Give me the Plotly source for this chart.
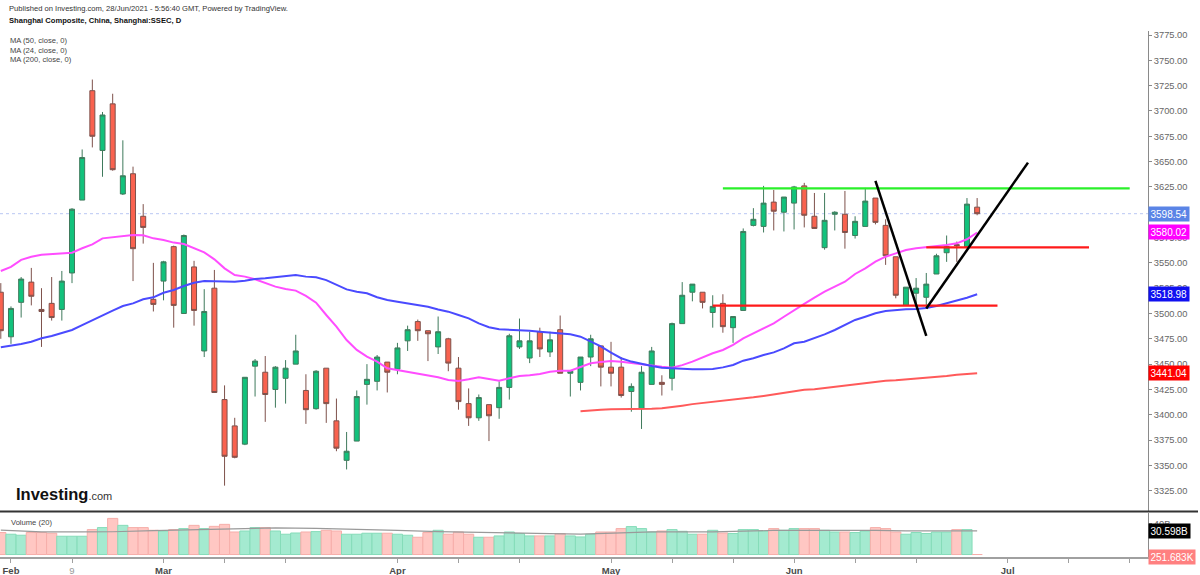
import pandas as pd
import plotly.graph_objects as go

# ---------------- DATA ----------------
holidays = ["2021-02-11", "2021-02-12", "2021-02-15", "2021-02-16", "2021-02-17",
            "2021-04-05", "2021-05-03", "2021-05-04", "2021-05-05", "2021-06-14"]
calendar = [d.strftime("%Y-%m-%d") for d in pd.bdate_range("2021-01-29", "2021-07-30")
            if d.strftime("%Y-%m-%d") not in holidays]
dates = [d for d in calendar if d <= "2021-06-28"]

opens = [3521, 3477, 3511, 3531, 3504, 3510, 3504, 3540, 3612, 3720,
         3661, 3707, 3618, 3638, 3596, 3514, 3532, 3566, 3500, 3546,
         3463, 3525, 3415, 3389, 3371, 3448, 3442, 3425, 3436, 3450,
         3424, 3406, 3446, 3394, 3355, 3374, 3430, 3433, 3452, 3445,
         3473, 3492, 3483, 3467, 3475, 3446, 3411, 3397, 3410, 3407,
         3427, 3467, 3456, 3482, 3462, 3484, 3441, 3432, 3457, 3468,
         3447, 3447, 3423, 3406, 3430, 3432, 3436, 3490, 3521, 3521,
         3501, 3510, 3486, 3503, 3587, 3586, 3610, 3600, 3609, 3626,
         3596, 3565, 3598, 3598, 3577, 3586, 3614, 3587, 3556, 3508,
         3520, 3516, 3539, 3560, 3568, 3566, 3605]
highs = [3530, 3507, 3536, 3545, 3525, 3536, 3542, 3604, 3662, 3731,
         3699, 3717, 3671, 3645, 3608, 3550, 3552, 3567, 3578, 3552,
         3524, 3543, 3429, 3397, 3437, 3455, 3458, 3448, 3454, 3479,
         3440, 3444, 3446, 3416, 3383, 3424, 3450, 3459, 3452, 3471,
         3488, 3494, 3483, 3497, 3476, 3457, 3426, 3420, 3410, 3433,
         3480, 3495, 3482, 3486, 3482, 3498, 3443, 3457, 3479, 3468,
         3472, 3457, 3431, 3448, 3467, 3439, 3491, 3531, 3529, 3521,
         3518, 3519, 3497, 3584, 3604, 3626, 3622, 3615, 3626, 3629,
         3619, 3619, 3601, 3621, 3596, 3624, 3614, 3593, 3556, 3526,
         3535, 3540, 3559, 3577, 3571, 3614, 3614]
lows = [3475, 3470, 3496, 3508, 3467, 3493, 3493, 3530, 3612, 3664,
        3635, 3641, 3617, 3532, 3569, 3502, 3513, 3486, 3500, 3488,
        3457, 3422, 3330, 3357, 3370, 3418, 3393, 3407, 3411, 3450,
        3391, 3405, 3392, 3364, 3346, 3374, 3410, 3424, 3422, 3440,
        3463, 3473, 3453, 3460, 3443, 3405, 3389, 3394, 3374, 3396,
        3415, 3465, 3451, 3457, 3457, 3441, 3418, 3424, 3448, 3428,
        3428, 3417, 3403, 3386, 3430, 3419, 3424, 3490, 3512, 3505,
        3486, 3481, 3471, 3503, 3586, 3580, 3582, 3581, 3583, 3585,
        3584, 3563, 3582, 3564, 3574, 3586, 3588, 3548, 3515, 3508,
        3507, 3507, 3539, 3551, 3551, 3566, 3597]
closes = [3483, 3505, 3534, 3517, 3502, 3496, 3532, 3603, 3654, 3675,
          3696, 3642, 3636, 3564, 3585, 3509, 3551, 3508, 3577, 3503,
          3502, 3422, 3359, 3358, 3437, 3453, 3420, 3447, 3446, 3463,
          3405, 3443, 3411, 3367, 3364, 3418, 3435, 3457, 3442, 3466,
          3484, 3483, 3480, 3482, 3451, 3413, 3397, 3417, 3399, 3427,
          3478, 3473, 3473, 3465, 3474, 3441, 3443, 3457, 3475, 3447,
          3441, 3419, 3428, 3442, 3463, 3430, 3490, 3518, 3529, 3511,
          3507, 3487, 3497, 3581, 3593, 3609, 3601, 3615, 3625, 3597,
          3584, 3592, 3600, 3580, 3591, 3611, 3590, 3557, 3518, 3526,
          3525, 3529, 3557, 3566, 3567, 3608, 3598.54]
# volume in billions
volumes = [28.5, 26.3, 25.0, 28.5, 28.5, 27.6, 23.7, 23.7, 23.7, 32.3,
           34.9, 46.8, 37.8, 34.9, 34.9, 31.4, 30.5, 32.3, 33.6, 37.8,
           33.6, 36.5, 39.1, 29.2, 30.5, 34.9, 34.9, 30.5, 26.3, 27.9,
           29.2, 29.7, 31.4, 30.5, 26.3, 26.3, 27.6, 27.6, 27.6, 26.3,
           25.0, 22.4, 28.5, 31.4, 26.3, 29.2, 26.3, 22.4, 22.4, 24.1,
           29.2, 27.2, 24.1, 24.1, 24.1, 27.2, 24.1, 22.8, 26.3, 29.2,
           29.2, 33.6, 36.2, 33.6, 29.2, 30.5, 32.3, 30.1, 26.3, 26.3,
           31.4, 27.9, 27.2, 32.3, 32.3, 30.5, 33.6, 31.4, 33.6, 33.6,
           33.6, 31.4, 29.2, 29.2, 28.5, 30.5, 34.9, 33.6, 29.2, 26.3,
           28.5, 27.2, 29.2, 29.2, 32.3, 32.3, 0.000251683]
ma24 = [3542, 3546, 3553, 3556, 3558, 3558.5, 3559, 3560, 3564.4, 3568.3,
        3574.2, 3575.2, 3576.8, 3577.5, 3577.2, 3574.2, 3572.6, 3570, 3568.6, 3564.4,
        3560.4, 3553.5, 3544.6, 3538, 3536.4, 3533.8, 3529.8, 3526.5, 3524.2, 3522.6,
        3517.3, 3510.7, 3498.5, 3487, 3473.8, 3464, 3457.4, 3452.5, 3445.9, 3444.2,
        3442.5, 3441, 3439.3, 3437, 3434.3, 3433.3, 3435, 3437, 3435.3, 3433.7,
        3436, 3438.3, 3439, 3440.3, 3442.5, 3443.5, 3443.5, 3447.5, 3450.8, 3452.1,
        3453, 3452.4, 3451, 3450.1, 3448.8, 3447.5, 3446.5, 3449, 3452.5, 3456.7,
        3460.7, 3464, 3469, 3475.5, 3480.5, 3485.4, 3490.3, 3496.8, 3503.5, 3509.4,
        3515.6, 3521.5, 3526.5, 3531.4, 3539, 3544.6, 3551.2, 3556.1, 3559.4, 3562.7,
        3564.4, 3565.3, 3566, 3567.6, 3569.3, 3573.3, 3580.02]
ma50 = [3466.6, 3467.9, 3469.9, 3472.1, 3475.5, 3477.8, 3480.5, 3483.7, 3488.6, 3493.6,
        3498.5, 3502.8, 3507.4, 3510, 3514, 3516, 3520.5, 3523.2, 3527.1, 3530.4,
        3532, 3532, 3531.8, 3531.4, 3532.4, 3534, 3534.8, 3535.7, 3537.3, 3538,
        3536.4, 3535.7, 3533, 3528.1, 3523.8, 3521.5, 3519.9, 3516, 3513.3, 3511.6,
        3510, 3508.3, 3506.7, 3504, 3501.8, 3498.5, 3495.2, 3490.3, 3486.4, 3484.4,
        3484, 3483.7, 3483, 3482, 3481.3, 3480.5, 3479.4, 3477.1, 3472.1, 3467.5,
        3461.3, 3455.8, 3452.5, 3450.1, 3448.2, 3446.5, 3445.9, 3445.2, 3444.9, 3444.9,
        3445.2, 3446.8, 3449.1, 3453.4, 3455.8, 3459, 3461.6, 3465.6, 3470.6, 3472.1,
        3475.5, 3479.4, 3483.7, 3488.6, 3493.6, 3496.8, 3500.2, 3502.5, 3503.5, 3504.1,
        3504.4, 3505.4, 3507.4, 3510, 3512.6, 3515.6, 3518.98]
ma200_start = "2021-04-28"
ma200 = [3403.5, 3404.5, 3405, 3405.4, 3405.4, 3405.4, 3405.6, 3406, 3406.4, 3407.5,
         3409, 3410.5, 3411.5, 3412.5, 3413.5, 3414.6, 3416, 3417.2, 3418.6, 3420,
         3421.8, 3423.5, 3424.7, 3425.3, 3426.5, 3427.7, 3429.2, 3430.5, 3431.6, 3432.8,
         3433.5, 3434, 3434.8, 3435.2, 3436, 3437, 3438.3, 3439.5, 3440.3, 3441.04]
vol_ma_dates = ["2021-01-29", "2021-02-04", "2021-02-10", "2021-02-22", "2021-02-26",
                "2021-03-04", "2021-03-10", "2021-03-16", "2021-03-22", "2021-03-26",
                "2021-04-01", "2021-04-08", "2021-04-14", "2021-04-19", "2021-04-23",
                "2021-04-28", "2021-05-07", "2021-05-12", "2021-05-20", "2021-05-25",
                "2021-05-28", "2021-06-11", "2021-06-17", "2021-06-25", "2021-06-28"]
vol_ma = [31.5, 29.3, 29.3, 29.5, 31.0, 32.0, 33.5, 34.5, 34.0, 33.0,
          31.4, 29.8, 29.3, 28.0, 27.1, 26.5, 28.0, 29.3, 29.3, 30.1,
          31.2, 31.2, 30.6, 30.6, 30.6]

price_ticks = [3325, 3350, 3375, 3400, 3425, 3450, 3475, 3500, 3525, 3550,
               3575, 3600, 3625, 3650, 3675, 3700, 3725, 3750, 3775]
hidden_price_ticks = [3600]   # fully covered by the last-price tag in the reference
month_ticks = [("2021-02-01", "Feb"), ("2021-02-09", "9"), ("2021-03-01", "Mar"),
               ("2021-04-01", "Apr"), ("2021-05-06", "May"), ("2021-06-01", "Jun"),
               ("2021-07-01", "Jul")]
minor_ticks = ["2021-03-09", "2021-03-17", "2021-04-12", "2021-04-20", "2021-05-14",
               "2021-05-24", "2021-06-09", "2021-06-18", "2021-07-09", "2021-07-19"]

# user drawings (bar index, price)
green_level = (71, 111, 3623.5)
red_level_low = (70, 98, 3507.8)
red_level_mid = (91, 107, 3565.2)
black_down = ((86, 3631), (91, 3478))
black_up = ((91, 3505), (101, 3649))

last_labels = [("3598.54", 3598.54, "#5a84e6", "y"), ("3580.02", 3580.02, "#ff00ff", "y"),
               ("3518.98", 3518.98, "#1010f0", "y"), ("3441.04", 3441.04, "#ff0000", "y"),
               ("30.598B", 30.598, "#000000", "y2"), ("251.683K", -2.6, "#ff8080", "y2")]

# ---------------- FIGURE ----------------
pos = {d: i for i, d in enumerate(calendar)}
xs = [pos[d] for d in dates]
FONT = "Liberation Sans, Arial, sans-serif"
W, H = 1200, 575
ML, MR, MT, MB = 0, 52, 31, 18
PW, PH = W - ML - MR, H - MT - MB


def px(X):
    return (X - ML) / PW


def py(Y):
    return (H - MB - Y) / PH


fig = go.Figure()

fig.add_trace(go.Candlestick(
    x=xs, open=opens, high=highs, low=lows, close=closes,
    increasing=dict(fillcolor="#12c27c", line=dict(color="#3f7a5c", width=1)),
    decreasing=dict(fillcolor="#f9624f", line=dict(color="#7e514b", width=1)),
    whiskerwidth=0, hoverinfo="skip", showlegend=False, xaxis="x", yaxis="y"))

fig.add_trace(go.Scatter(x=xs, y=ma24, mode="lines", line=dict(color="#ff4dff", width=2),
                         hoverinfo="skip", showlegend=False, xaxis="x", yaxis="y"))
fig.add_trace(go.Scatter(x=xs, y=ma50, mode="lines", line=dict(color="#4a4aff", width=2),
                         hoverinfo="skip", showlegend=False, xaxis="x", yaxis="y"))
s200 = pos[ma200_start]
fig.add_trace(go.Scatter(x=list(range(s200, s200 + len(ma200))), y=ma200, mode="lines",
                         line=dict(color="#ff5a5a", width=2),
                         hoverinfo="skip", showlegend=False, xaxis="x", yaxis="y"))

up = [c >= o for o, c in zip(opens, closes)]
fig.add_trace(go.Bar(
    x=xs, y=volumes, width=1.0,
    marker=dict(color=["#a4ead0" if u else "#ffc7c3" for u in up],
                line=dict(color=["#86dcb9" if u else "#f6aeaa" for u in up], width=1)),
    hoverinfo="skip", showlegend=False, xaxis="x", yaxis="y2"))
fig.add_trace(go.Scatter(x=[pos[d] for d in vol_ma_dates], y=vol_ma, mode="lines",
                         line=dict(color="#9a9a9a", width=1.2),
                         hoverinfo="skip", showlegend=False, xaxis="x", yaxis="y2"))

tickvals = [pos[d] for d, _ in month_ticks] + [pos[d] for d in minor_ticks]
ticktext = [("<span style='color:#9a9a9a'>%s</span>" % t) if t.isdigit() else "<b>%s</b>" % t
            for _, t in month_ticks] + ["" for _ in minor_ticks]

shapes = []
shapes.append(dict(type="line", xref="paper", yref="y", x0=0, x1=1, y0=3598.54, y1=3598.54,
                   line=dict(color="#b9c7f3", width=1, dash="dot"), layer="below"))
for (x0, x1, yv), col in [(green_level, "#2af02a"), (red_level_low, "#ff1a1a"),
                          (red_level_mid, "#ff1a1a")]:
    shapes.append(dict(type="line", xref="x", yref="y", x0=x0, x1=x1, y0=yv, y1=yv,
                       line=dict(color=col, width=2.2)))
for (a, b) in [black_down, black_up]:
    shapes.append(dict(type="line", xref="x", yref="y", x0=a[0], y0=a[1], x1=b[0], y1=b[1],
                       line=dict(color="#000000", width=2.5)))
shapes.append(dict(type="line", xref="paper", yref="paper", x0=0, x1=px(1198),
                   y0=py(511.5), y1=py(511.5), line=dict(color="#333333", width=2)))

ann = []
ann.append(dict(text="Published on Investing.com, 28/Jun/2021 - 5:56:40 GMT, Powered by TradingView.",
                x=px(7), y=py(8.5), xref="paper", yref="paper", xanchor="left", yanchor="middle",
                showarrow=False, font=dict(family=FONT, size=7.6, color="#333")))
ann.append(dict(text="<b>Shanghai Composite, China, Shanghai:SSEC, D</b>",
                x=px(7), y=py(21), xref="paper", yref="paper", xanchor="left", yanchor="middle",
                showarrow=False, font=dict(family=FONT, size=7.6, color="#111")))
for i, t in enumerate(["MA (50, close, 0)", "MA (24, close, 0)", "MA (200, close, 0)"]):
    ann.append(dict(text=t, x=px(8), y=py(40.5 + 9.5 * i), xref="paper", yref="paper",
                    xanchor="left", yanchor="middle", showarrow=False,
                    font=dict(family=FONT, size=7.6, color="#444")))
ann.append(dict(text="Volume (20)", x=px(9), y=py(522), xref="paper", yref="paper",
                xanchor="left", yanchor="middle", showarrow=False,
                font=dict(family=FONT, size=7.6, color="#444")))
ann.append(dict(text="<b>Investing</b><span style='font-size:11px;color:#333'>.com</span>",
                x=px(14), y=py(494), xref="paper", yref="paper", xanchor="left", yanchor="middle",
                showarrow=False, font=dict(family=FONT, size=16.5, color="#111")))
for txt, yv, col, yr in last_labels:
    ann.append(dict(text=txt, x=1, xref="paper", y=yv, yref=yr, xanchor="left", yanchor="middle",
                    xshift=0, showarrow=False, bgcolor=col, borderpad=1.5,
                    font=dict(family=FONT, size=10, color="#ffffff")))

fig.update_layout(
    width=W, height=H, autosize=False,
    margin=dict(l=ML, r=MR, t=MT, b=MB, pad=0),
    paper_bgcolor="white", plot_bgcolor="white",
    font=dict(family=FONT, size=10, color="#555"),
    showlegend=False, hovermode=False,
    xaxis=dict(domain=[0, 1], range=[-0.08, 112.8], anchor="y2",
               rangeslider=dict(visible=False), showgrid=False, zeroline=False,
               showline=True, linecolor="#a0a0a0", linewidth=1.5,
               ticks="outside", ticklen=4, tickcolor="#a0a0a0",
               tickvals=tickvals, ticktext=ticktext,
               tickfont=dict(family=FONT, size=9.5, color="#4a4a4a")),
    yaxis=dict(domain=[py(511), 1], range=[3304.97, 3778.95], side="right",
               showgrid=False, zeroline=False, showline=True, linecolor="#8a8a8a",
               ticks="outside", ticklen=3, tickcolor="#8a8a8a",
               tickvals=price_ticks,
               ticktext=["" if v in hidden_price_ticks else "%.2f" % v for v in price_ticks],
               tickfont=dict(family=FONT, size=9.3, color="#666")),
    yaxis2=dict(domain=[0, py(513)], range=[-3.2, 53.8], side="right", anchor="x",
                showgrid=False, zeroline=False, showline=True, linecolor="#8a8a8a",
                ticks="outside", ticklen=3, tickcolor="#8a8a8a",
                tickvals=[40], ticktext=["40B"],
                tickfont=dict(family=FONT, size=9.3, color="#666")),
    shapes=shapes, annotations=ann,
)

fig.write_html("out.html", config={"displayModeBar": False, "staticPlot": True},
               post_script="document.body.style.margin='0';document.body.style.overflow='hidden';")
